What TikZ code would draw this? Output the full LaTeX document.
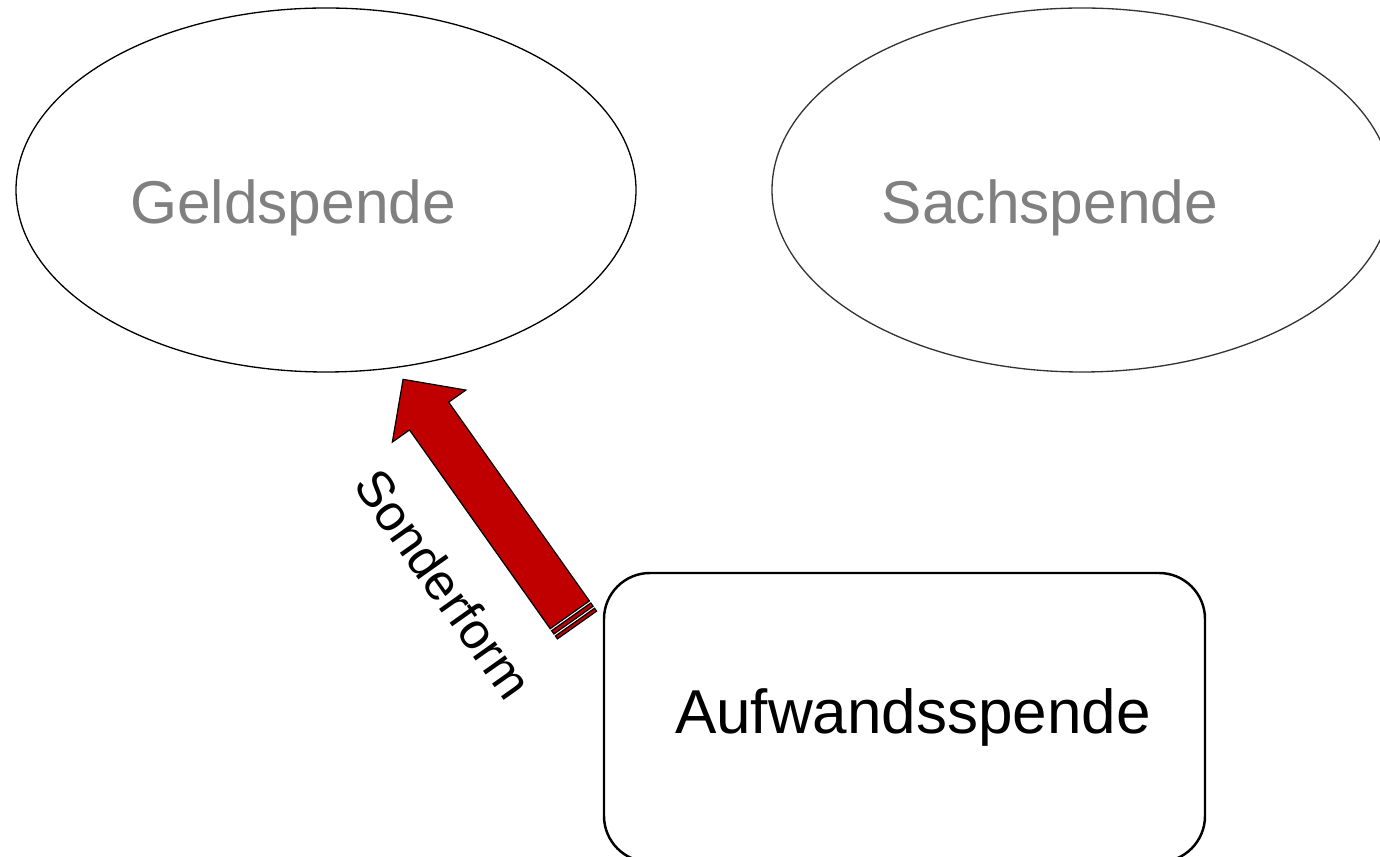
\documentclass[tikz,border=0pt]{standalone}
\usepackage{fontspec}
\setmainfont{Liberation Sans}
\usetikzlibrary{shapes.geometric}
\definecolor{arrowred}{RGB}{192,0,0}
\definecolor{labelgray}{RGB}{128,128,128}
\tikzset{
  spendeell/.style={ellipse, draw=black, line width=0.75pt, minimum width=620*0.02cm, minimum height=364*0.02cm, inner sep=0pt},
  graylabel/.style={text=labelgray, font=\fontsize{34.4}{40}\selectfont, anchor=base, inner sep=0pt},
  blacklabel/.style={text=black, font=\fontsize{35.3}{40}\selectfont, anchor=base, inner sep=0pt},
  roundbox/.style={draw=black, line width=1.4pt, rounded corners=0.92cm},
  arrowpart/.style={fill=arrowred, draw=black, line width=0.7pt, line join=miter}
}
\begin{document}
\begin{tikzpicture}[x=0.02cm,y=-0.02cm]
\useasboundingbox (0,0) rectangle (1380,857);
\begin{scope}
\clip (0,0) rectangle (1380,857);
% ellipses
\node[spendeell] (geld) at (326,190) {};
\node[spendeell, draw=black!80] (sach) at (1082,190) {};
\node[graylabel] (geldtxt) at (293,224) {Geldspende};
\node[graylabel] (sachtxt) at (1050,224) {Sachspende};
% box
\draw[roundbox] (604,573) rectangle (1205,862);
\node[blacklabel] (aufw) at (913,734) {Aufwandsspende};
% arrow
\coordinate (tail) at (577,625);
\coordinate (tip) at (403,379);
\begin{scope}[shift={(tail)}, rotate=125.3]
  \draw[arrowpart] (0,-24) -- (3.5,-24) -- (3.5,24) -- (0,24) -- cycle;
  \draw[arrowpart] (6,-24) -- (10,-24) -- (10,24) -- (6,24) -- cycle;
  \draw[arrowpart] (12.5,-24) -- (256,-24) -- (256,-45) -- (301,0) -- (256,45) -- (256,24) -- (12.5,24) -- cycle;
\end{scope}
\node[font=\fontsize{29}{34}\selectfont, rotate=-54.7, inner sep=0pt] (sonder) at (444,584) {Sonderform};
\end{scope}
\end{tikzpicture}
\end{document}
